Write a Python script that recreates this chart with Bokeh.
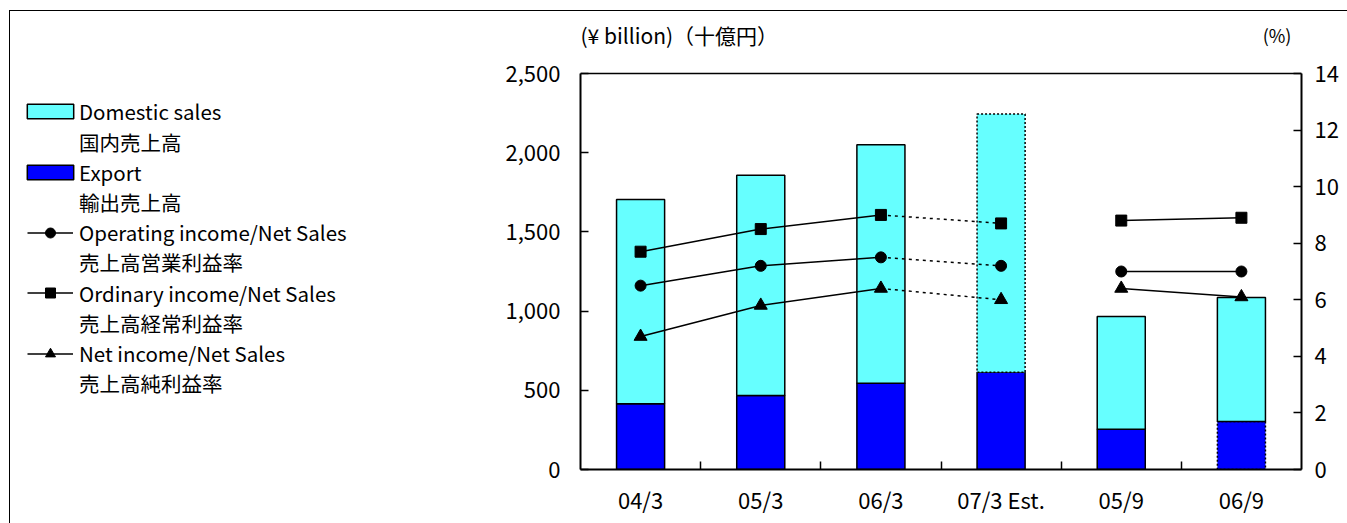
import numpy as np
from bokeh.plotting import figure
from bokeh.layouts import row
from bokeh.models import (ColumnDataSource, FactorRange, Range1d, LinearAxis, FixedTicker,
                          SingleIntervalTicker, NumeralTickFormatter, Legend, LegendItem,
                          Label, CDSView, IndexFilter, Span)
from bokeh.embed import file_html
from bokeh.resources import INLINE

# ---------------- data ----------------
categories = ["04/3", "05/3", "06/3", "07/3 Est.", "05/9", "06/9"]
domestic = [1290, 1390, 1505, 1630, 712, 783]          # ¥ billion
export = [415, 467, 545, 614, 254, 303]                # ¥ billion
operating_margin = [6.5, 7.2, 7.5, 7.2, 7.0, 7.0]      # %
ordinary_margin = [7.7, 8.5, 9.0, 8.7, 8.8, 8.9]       # %
net_margin = [4.7, 5.8, 6.4, 6.0, 6.4, 6.1]            # %
left_max, pct_max = 2500, 14

FONT = "Noto Sans CJK JP"
CYAN = "#66FFFF"
BLUE = "#0000FF"

# ---------------- layout constants (px) ----------------
TOTAL_W, TOTAL_H = 1337, 512
LEG_W = 470
MAIN_W = TOTAL_W - LEG_W
PLOT_H = 396            # height of the 0..max region
CAPTION_PAD = 62        # space above the plot box kept for unit captions
BOTTOM = TOTAL_H - PLOT_H - CAPTION_PAD
scale_up = (PLOT_H + CAPTION_PAD) / PLOT_H

n = len(categories)
src = ColumnDataSource(dict(cat=categories, exp=export, dom=domestic,
                            total=list(np.add(export, domestic))))

# ---------------- main chart ----------------
p = figure(width=MAIN_W, height=TOTAL_H, x_range=FactorRange(*categories),
           y_range=Range1d(0, left_max * scale_up),
           x_axis_type=None, y_axis_type=None, output_backend="svg", toolbar_location=None,
           min_border_left=100, min_border_right=46, min_border_top=0, min_border_bottom=BOTTOM)
p.extra_y_ranges = {"pct": Range1d(0, pct_max * scale_up)}
p.outline_line_color = None
p.background_fill_color = "white"
p.border_fill_color = "white"

centers = [i + 0.5 for i in range(n)]
bounds = [i + 1.0 for i in range(n - 1)]
xaxis = LinearAxis(ticker=FixedTicker(ticks=centers, minor_ticks=bounds),
                   major_label_overrides={c: lab for c, lab in zip(centers, categories)})
xaxis.axis_line_width = 2
xaxis.major_tick_line_color = None
xaxis.major_tick_in = 0
xaxis.major_tick_out = 0
xaxis.minor_tick_in = 8
xaxis.minor_tick_out = 0
xaxis.minor_tick_line_width = 1.5
xaxis.major_label_standoff = 13
xaxis.major_label_text_font = FONT
xaxis.major_label_text_font_size = "22px"
xaxis.major_label_text_color = "black"
p.add_layout(xaxis, "below")

yaxis = LinearAxis(ticker=SingleIntervalTicker(interval=500), bounds=(0, left_max),
                   formatter=NumeralTickFormatter(format="0,0"))
yaxis2 = LinearAxis(y_range_name="pct", ticker=SingleIntervalTicker(interval=2), bounds=(0, pct_max))
for ax, standoff in ((yaxis, 20), (yaxis2, 13)):
    ax.axis_line_width = 2
    ax.major_tick_in = 8
    ax.major_tick_out = 0
    ax.minor_tick_in = 0
    ax.minor_tick_out = 0
    ax.major_tick_line_width = 1.5
    ax.minor_tick_line_color = None
    ax.major_label_standoff = standoff
    ax.major_label_text_font = FONT
    ax.major_label_text_font_size = "22px"
    ax.major_label_text_color = "black"
p.add_layout(yaxis, "left")
p.add_layout(yaxis2, "right")
p.add_layout(Span(location=left_max, dimension="width", line_color="black", line_width=1.5))

# bars
est_dom = [3]          # estimated domestic bar (dotted outline)
est_exp = [5]          # dotted export bar
solid_dom = [i for i in range(n) if i not in est_dom]
solid_exp = [i for i in range(n) if i not in est_exp]

bar_kw = dict(x="cat", width=0.4, source=src, line_color="black", line_width=1.5)
p.vbar(bottom=0, top="exp", fill_color=BLUE, view=CDSView(filter=IndexFilter(solid_exp)), **bar_kw)
p.vbar(bottom=0, top="exp", fill_color=BLUE, line_dash="2 2",
       view=CDSView(filter=IndexFilter(est_exp)), **bar_kw)
p.vbar(bottom="exp", top="total", fill_color=CYAN, view=CDSView(filter=IndexFilter(solid_dom)), **bar_kw)
p.vbar(bottom="exp", top="total", fill_color=CYAN, line_dash="2 2",
       view=CDSView(filter=IndexFilter(est_dom)), **bar_kw)

series = ((operating_margin, "circle", 11, "Operating income/Net Sales", "売上高営業利益率"),
          (ordinary_margin, "square", 11, "Ordinary income/Net Sales", "売上高経常利益率"),
          (net_margin, "triangle", 13, "Net income/Net Sales", "売上高純利益率"))
for vals, marker, size, _, _ in series:
    p.line(categories[:3], vals[:3], y_range_name="pct", line_color="black", line_width=1.5)
    p.line(categories[2:4], vals[2:4], y_range_name="pct", line_color="black",
           line_width=1.5, line_dash="3 4")
    p.line(categories[4:6], vals[4:6], y_range_name="pct", line_color="black", line_width=1.5)
    p.scatter(categories, vals, marker=marker, size=size, y_range_name="pct",
              fill_color="black", line_color="black")

# unit captions
p.add_layout(Label(x=0, y=left_max, y_offset=39, text="(¥ billion)（十億円）", text_baseline="middle",
                   text_font=FONT, text_font_size="21px", text_color="black"))
p.add_layout(Label(x=n, y=left_max, x_offset=-24.5, y_offset=39, text="(%)", text_align="center",
                   text_baseline="middle", text_font=FONT, text_font_size="18px", text_color="black"))

# ---------------- legend panel ----------------
# The legend sits in its own panel; swatch renderers there use the same series but the
# panel's own factor range does not contain the categories, so nothing is drawn there.
lg = figure(width=LEG_W, height=TOTAL_H, x_range=FactorRange("key"), y_range=Range1d(0, 1),
            x_axis_type=None, y_axis_type=None, output_backend="svg", toolbar_location=None,
            min_border_left=0, min_border_right=0, min_border_top=0, min_border_bottom=0)
lg.outline_line_color = None
lg.border_fill_color = "white"
lg.background_fill_color = "white"

dom_sw = lg.vbar(x="cat", bottom="exp", top="total", width=0.4, source=src,
                 fill_color=CYAN, line_color="black", line_width=1.5)
exp_sw = lg.vbar(x="cat", bottom=0, top="exp", width=0.4, source=src,
                 fill_color=BLUE, line_color="black", line_width=1.5)
blank = lg.line(x="cat", y="exp", source=src, line_alpha=0)

LEG_FONT_PX = 20.5
FRAME_H = TOTAL_H - BOTTOM      # legend panel frame is aligned with the chart frame
ITEM_H = 36 * LEG_FONT_PX / 25  # measured height of one legend row
TEXT_DROP = 4 * LEG_FONT_PX / 25
PAGE_TOP = 11                   # canvas top on the page
ROW_Y = [115 + 30.2 * k for k in range(10)]   # page y of each legend text line

bar_glyph = dict(glyph_width=58, glyph_height=18, label_standoff=0, x=11)
line_glyph = dict(glyph_width=46, glyph_height=25, label_standoff=6, x=17)

rows = [("Domestic sales", [dom_sw], bar_glyph),
        ("国内売上高", [blank], bar_glyph),
        ("Export", [exp_sw], bar_glyph),
        ("輸出売上高", [blank], bar_glyph)]
for vals, marker, size, name, jp in series:
    l_sw = lg.line(x=categories, y=vals, line_color="black", line_width=1.5)
    m_sw = lg.scatter(x=categories, y=vals, marker=marker, fill_color="black", line_color="black")
    rows.append((name, [l_sw, m_sw], line_glyph))
    rows.append((jp, [blank], line_glyph))

for (label, rends, g), page_y in zip(rows, ROW_Y):
    c = page_y - PAGE_TOP
    top = c - TEXT_DROP - ITEM_H / 2
    vy = FRAME_H - top - ITEM_H
    leg = Legend(items=[LegendItem(label=label, renderers=rends)],
                 location=(g["x"], vy), glyph_width=g["glyph_width"], glyph_height=g["glyph_height"],
                 label_standoff=g["label_standoff"], spacing=0, padding=0, margin=0,
                 border_line_color=None, background_fill_alpha=0, label_text_font=FONT,
                 label_text_font_size=f"{LEG_FONT_PX}px", label_height=16, label_text_color="black")
    lg.add_layout(leg)

layout = row(lg, p, styles={"margin-left": "9px", "margin-top": "10px",
                            "border-top": "1px solid black", "border-left": "1px solid black"})

open("out.html", "w").write(file_html(layout, INLINE))
